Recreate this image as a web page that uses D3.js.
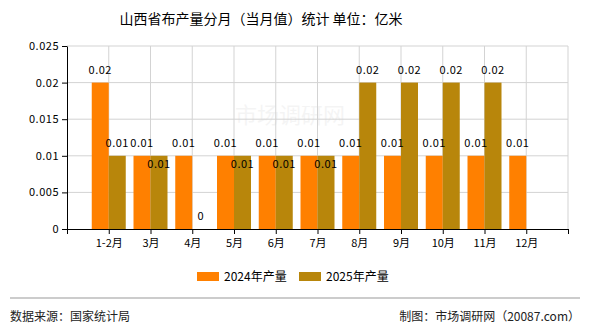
<!DOCTYPE html>
<html><head><meta charset="utf-8">
<script src="https://cdnjs.cloudflare.com/ajax/libs/d3/7.8.5/d3.min.js"></script>
<style>body{margin:0;background:#fff}svg{display:block}text{font-family:"Noto Sans CJK SC","DejaVu Sans",sans-serif}</style>
</head><body><svg id="c" width="590" height="330"></svg>
<script>
const categories = ["1-2月","3月","4月","5月","6月","7月","8月","9月","10月","11月","12月"];
const series2024 = [0.02,0.01,0.01,0.01,0.01,0.01,0.01,0.01,0.01,0.01,0.01];
const series2025 = [0.01,0.01,0,0.01,0.01,0.01,0.02,0.02,0.02,0.02,null];
const seriesNames = ["2024年产量","2025年产量"];
const yTicks = [0,0.005,0.01,0.015,0.02,0.025];
const yTickLabels = ["0","0.005","0.01","0.015","0.02","0.025"];
const colors = ["#FF8000","#B8860B"];

const svg = d3.select("#c");
const L=67,R=568,T=46,B=229;
const x = d3.scaleLinear().domain([0,categories.length+1]).range([L,R]);
const y = d3.scaleLinear().domain([0,0.025]).range([B,T]);
const bw = 17;

// title
svg.append("text").attr("x",261).attr("y",24).attr("text-anchor","middle")
  .attr("font-size",14).attr("fill","#000").text("山西省布产量分月（当月值）统计 单位：亿米");

// watermark
svg.append("text").attr("x",235).attr("y",123).attr("font-size",22).attr("fill","#000")
  .attr("opacity",0.04).text("市场调研网");

// grid
const g = svg.append("g");
g.selectAll("line.hg").data(yTicks.slice(1)).join("line")
  .attr("x1",L).attr("x2",R).attr("y1",d=>y(d)).attr("y2",d=>y(d))
  .attr("stroke","#d3d3d3").attr("stroke-width",1);
g.selectAll("line.vg").data(d3.range(1,categories.length+2)).join("line")
  .attr("x1",d=>x(d)).attr("x2",d=>x(d)).attr("y1",T).attr("y2",B)
  .attr("stroke","#d3d3d3").attr("stroke-width",1);

// bars
const data2024 = categories.map((c,i)=>({i,v:series2024[i]}));
const data2025 = categories.map((c,i)=>({i,v:series2025[i]}));
svg.append("g").selectAll("rect").data(data2024.filter(d=>d.v!=null)).join("rect")
  .attr("x",d=>x(d.i+1)-bw).attr("width",bw).attr("y",d=>y(d.v)).attr("height",d=>B-y(d.v))
  .attr("fill",colors[0]);
svg.append("g").selectAll("rect").data(data2025.filter(d=>d.v!=null)).join("rect")
  .attr("x",d=>x(d.i+1)).attr("width",bw).attr("y",d=>y(d.v)).attr("height",d=>B-y(d.v))
  .attr("fill",colors[1]);

// labels
const lab = svg.append("g").attr("font-size",11).attr("fill","#000").attr("text-anchor","middle")
  .attr("letter-spacing","0.5px");
lab.selectAll("text.a").data(data2024.filter(d=>d.v!=null)).join("text")
  .attr("x",d=>x(d.i+1)-bw/2).attr("y",d=>y(d.v)-9).text(d=>d.v);
lab.selectAll("text.b").data(data2025.filter(d=>d.v!=null)).join("text")
  .attr("x",d=>x(d.i+1)+bw/2)
  .attr("y",d=>(d.v===series2024[d.i] ? y(d.v)+12 : y(d.v)-9))
  .text(d=>d.v);

// axes
const ya = d3.axisLeft(y).tickValues(yTicks).tickFormat((d,i)=>yTickLabels[i]).tickSize(5).tickSizeOuter(0);
const yg = svg.append("g").attr("transform",`translate(${L},0)`).call(ya);
yg.selectAll("text").attr("font-size",11).attr("fill","#000").attr("letter-spacing","0.5px");
yg.selectAll("line,path").attr("stroke","#000");

const xa = d3.axisBottom(x).tickValues(d3.range(0,categories.length+2))
  .tickFormat(d=>(d>=1&&d<=categories.length)?categories[d-1]:"").tickSize(5).tickSizeOuter(0);
const xg = svg.append("g").attr("transform",`translate(0,${B})`).call(xa);
xg.selectAll("text").attr("font-size",11).attr("fill","#000").attr("dy","0.9em");
xg.selectAll("line,path").attr("stroke","#000");

// legend
const lg = svg.append("g");
[[197,224],[299,326]].forEach((p,i)=>{
  lg.append("rect").attr("x",p[0]).attr("y",272).attr("width",22).attr("height",9).attr("fill",colors[i]);
  lg.append("text").attr("x",p[1]).attr("y",281).attr("font-size",12).attr("fill","#000").text(seriesNames[i]);
});

// footer
svg.append("line").attr("x1",10).attr("x2",580).attr("y1",298).attr("y2",298).attr("stroke","#999");
svg.append("text").attr("x",10).attr("y",321).attr("font-size",12).attr("fill","#222").text("数据来源：国家统计局");
svg.append("text").attr("x",580).attr("y",321).attr("font-size",12).attr("fill","#222").attr("text-anchor","end").text("制图：市场调研网（20087.com）");
</script></body></html>
